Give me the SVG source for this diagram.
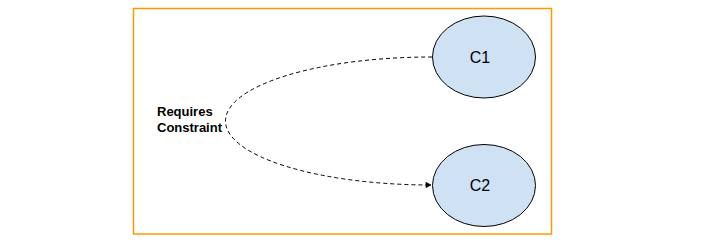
<svg xmlns="http://www.w3.org/2000/svg" width="720" height="245" viewBox="0 0 720 245">
<style>
.node{fill:#cfe2f3;stroke:#000;stroke-width:1}
.lbl{font-family:"Liberation Sans",Arial,sans-serif;font-size:16px;fill:#000;text-anchor:middle}
.edge{fill:none;stroke:#000;stroke-width:1;stroke-dasharray:4,3}
.elbl{font-family:"Liberation Sans",Arial,sans-serif;font-size:13px;font-weight:bold;fill:#000}
</style>
<defs>
<marker id="arr" markerWidth="8" markerHeight="8" refX="6" refY="4" orient="auto" markerUnits="userSpaceOnUse">
<path d="M1,1.5 L6,4 L1,6.5 Z" fill="#000" stroke="#000" stroke-width="0.8"/>
</marker>
</defs>
<rect x="133.5" y="8.5" width="418" height="225.5" fill="#fff" stroke="#ff9900" stroke-width="1.5"/>
<g id="connectors">
<path class="edge" d="M432,57 A206,64 0 0 0 431,185" marker-end="url(#arr)"/>
<text class="elbl"><tspan x="157" y="116">Requires</tspan><tspan x="157" y="131.5">Constraint</tspan></text>
</g>
<g id="C1">
<ellipse class="node" cx="484" cy="57" rx="51.5" ry="41"/>
<text class="lbl" x="480" y="63">C1</text>
</g>
<g id="C2">
<ellipse class="node" cx="484" cy="185.5" rx="51.5" ry="41"/>
<text class="lbl" x="480" y="191">C2</text>
</g>
</svg>
